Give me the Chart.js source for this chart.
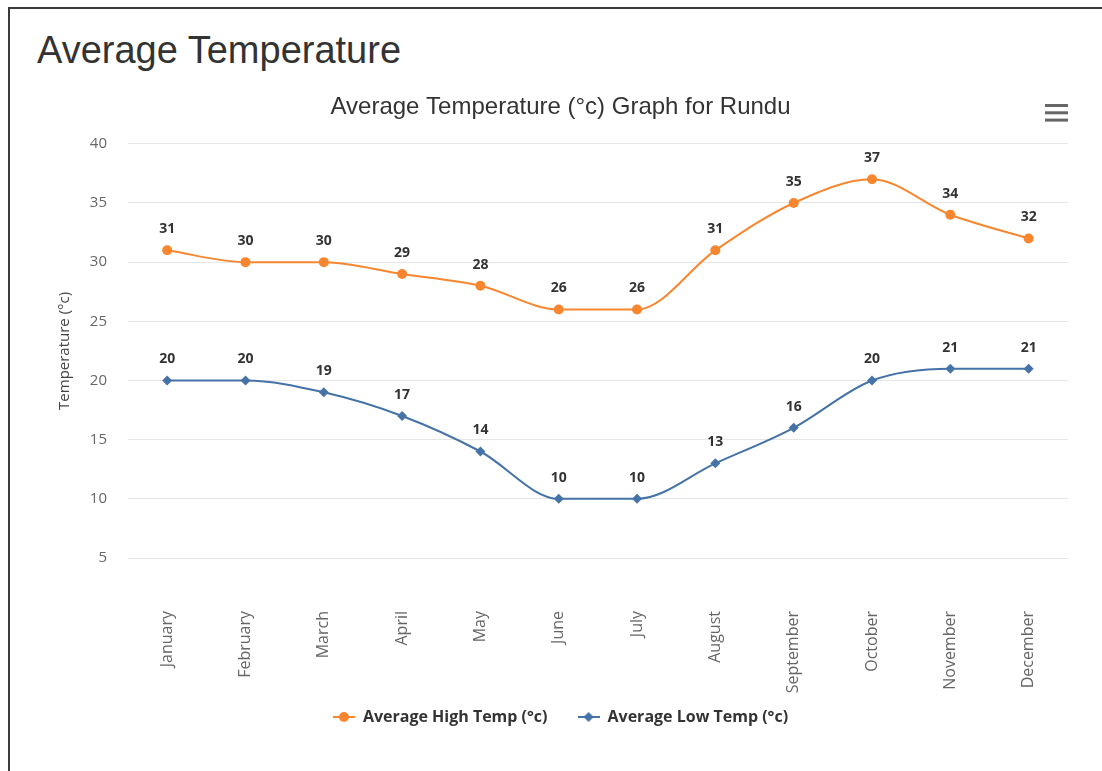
<!DOCTYPE html>
<html><head><meta charset="utf-8">
<script src="https://cdn.jsdelivr.net/npm/chart.js@4.4.0/dist/chart.umd.min.js"></script>
<style>
html,body{margin:0;padding:0;background:#fff;width:1102px;height:771px;overflow:hidden;}
#frame{position:absolute;left:8px;top:7px;width:1110px;height:790px;border-top:2px solid #3a3a3a;border-left:2px solid #3a3a3a;}
#pageTitle{position:absolute;left:37px;top:31px;margin:0;font-weight:normal;font-size:38px;line-height:1;font-family:"Liberation Sans",Arial,sans-serif;color:#333;white-space:nowrap;}
#wrap{position:absolute;left:0;top:0;width:1102px;height:771px;}
</style></head><body>
<div id="frame"></div>
<h1 id="pageTitle">Average Temperature</h1>
<div id="wrap"><canvas id="c"></canvas></div>
<script>
const months = ['January','February','March','April','May','June','July','August','September','October','November','December'];
const highTemps = [31,30,30,29,28,26,26,31,35,37,34,32];
const lowTemps = [20,20,19,17,14,10,10,13,16,20,21,21];
const yTickValues = [5,10,15,20,25,30,35,40];
const chartTitle = 'Average Temperature (°c) Graph for Rundu';
const yAxisTitle = 'Temperature (°c)';
const seriesNames = ['Average High Temp (°c)','Average Low Temp (°c)'];

const ORANGE = '#f8862f';
const BLUE = '#4572a7';

function makeIcon(color, shape){
  const cv = document.createElement('canvas');
  cv.width = 22; cv.height = 12;
  const g = cv.getContext('2d');
  g.strokeStyle = color; g.lineWidth = 2;
  g.beginPath(); g.moveTo(0,6); g.lineTo(22,6); g.stroke();
  g.fillStyle = color;
  g.beginPath();
  if (shape === 'circle') { g.arc(11,6,5,0,Math.PI*2); }
  else { g.moveTo(11,1); g.lineTo(16,6); g.lineTo(11,11); g.lineTo(6,6); g.closePath(); }
  g.fill();
  return cv;
}
const legendIcons = [makeIcon(ORANGE,'circle'), makeIcon(BLUE,'diamond')];

const dataLabelPlugin = {
  id: 'dataLabelPlugin',
  afterDatasetsDraw(chart){
    const ctx = chart.ctx;
    ctx.save();
    ctx.font = 'bold 14px "Open Sans"';
    ctx.textAlign = 'center';
    ctx.textBaseline = 'middle';
    ctx.lineJoin = 'round';
    chart.data.datasets.forEach((ds, i) => {
      chart.getDatasetMeta(i).data.forEach((pt, j) => {
        const t = String(ds.data[j]);
        ctx.strokeStyle = '#fff'; ctx.lineWidth = 2;
        ctx.strokeText(t, pt.x, pt.y - 21);
        ctx.fillStyle = '#333';
        ctx.fillText(t, pt.x, pt.y - 21);
      });
    });
    ctx.restore();
  }
};

const menuIconPlugin = {
  id: 'menuIconPlugin',
  afterDraw(chart){
    const ctx = chart.ctx;
    ctx.save();
    ctx.fillStyle = '#666';
    for (let k = 0; k < 3; k++) ctx.fillRect(1045, 104 + k*7.3, 23, 3);
    ctx.restore();
  }
};

// let the rotated month labels extend below the x-axis box (avoids clipping)
const labelRoomPlugin = {
  id: 'labelRoomPlugin',
  afterLayout(chart){
    const s = chart.scales.x;
    s.bottom = s.top + 160;
  }
};

new Chart(document.getElementById('c'), {
  type: 'line',
  data: {
    labels: months,
    datasets: [
      { label: seriesNames[0], data: highTemps, borderColor: ORANGE, backgroundColor: ORANGE,
        borderWidth: 2, pointStyle: 'circle', pointRadius: 5, pointBorderWidth: 0,
        cubicInterpolationMode: 'monotone', fill: false },
      { label: seriesNames[1], data: lowTemps, borderColor: BLUE, backgroundColor: BLUE,
        borderWidth: 2, pointStyle: 'rectRot', pointRadius: 5, pointBorderWidth: 0,
        cubicInterpolationMode: 'monotone', fill: false }
    ]
  },
  options: {
    responsive: true, maintainAspectRatio: false, animation: false, events: [],
    layout: { padding: { left: 47, right: 28, top: 0, bottom: 36 } },
    plugins: {
      tooltip: { enabled: false },
      title: { display: true, text: chartTitle, color: '#333',
        font: { family: '"Liberation Sans", Arial, sans-serif', size: 24, weight: 'normal', lineHeight: 1.2 },
        padding: { top: 93, bottom: 22 } },
      legend: { position: 'bottom',
        labels: { usePointStyle: true, pointStyleWidth: 22, padding: 30, color: '#333',
          font: { family: '"Open Sans"', size: 16, weight: 'bold' },
          generateLabels(chart){
            const items = Chart.defaults.plugins.legend.labels.generateLabels(chart);
            items.forEach((it, i) => { it.pointStyle = legendIcons[i]; });
            return items;
          } } }
    },
    scales: {
      x: {
        offset: true,
        grid: { display: false, drawTicks: false },
        border: { display: false },
        ticks: { minRotation: 90, maxRotation: 90, autoSkip: false, padding: 53, color: '#666',
          font: { family: '"Open Sans"', size: 16 } },
        afterFit(scale){ scale.height = 121; }
      },
      y: {
        min: 5, max: 40,
        afterBuildTicks(scale){ scale.ticks = yTickValues.map(v => ({ value: v })); },
        grid: { color: '#e6e6e6', lineWidth: 1, drawTicks: false },
        border: { display: false },
        ticks: { padding: 21, color: '#666', font: { family: '"Open Sans"', size: 15 } },
        title: { display: true, text: yAxisTitle, color: '#444', padding: { top: 9, bottom: 0 },
          font: { family: '"Open Sans"', size: 15 } },
        afterFit(scale){ scale.width = 81; }
      }
    }
  },
  plugins: [dataLabelPlugin, menuIconPlugin, labelRoomPlugin]
});
</script>
</body></html>
